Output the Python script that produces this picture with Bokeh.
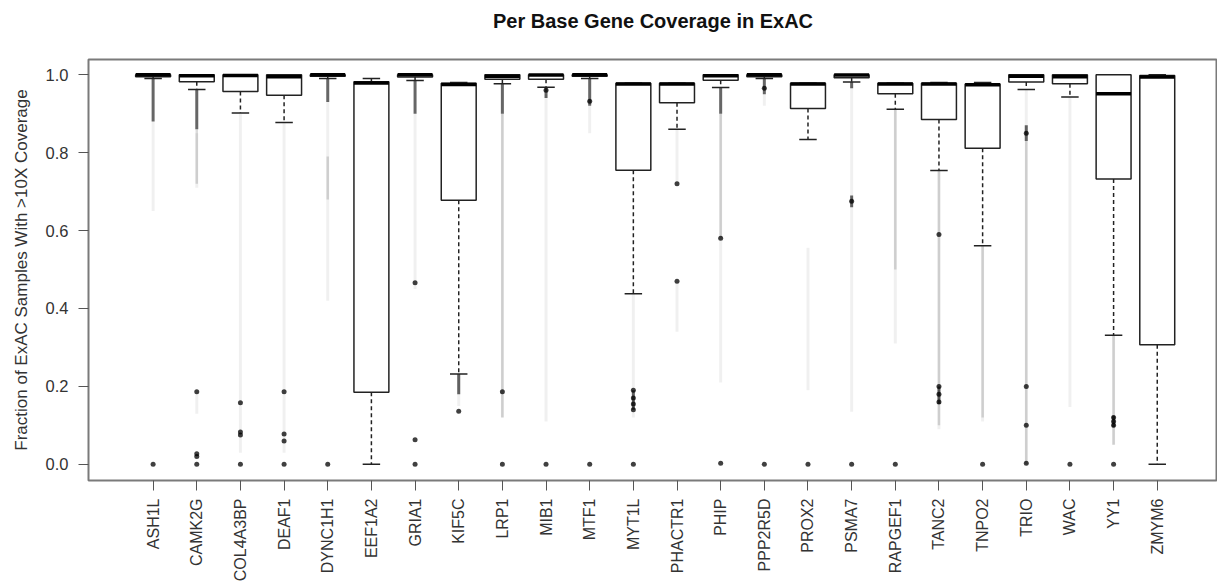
import numpy as np
from bokeh.plotting import figure
from bokeh.models import FixedTicker, Range1d, LinearAxis
from bokeh.embed import file_html
from bokeh.resources import INLINE

title_text = "Per Base Gene Coverage in ExAC"
y_title = "Fraction of ExAC Samples With >10X Coverage"

genes = ["ASH1L", "CAMK2G", "COL4A3BP", "DEAF1", "DYNC1H1", "EEF1A2", "GRIA1", "KIF5C",
         "LRP1", "MIB1", "MTF1", "MYT1L", "PHACTR1", "PHIP", "PPP2R5D", "PROX2", "PSMA7",
         "RAPGEF1", "TANC2", "TNPO2", "TRIO", "WAC", "YY1", "ZMYM6"]

q1 = [0.995, 0.982, 0.957, 0.947, 0.996, 0.185, 0.994, 0.678, 0.988, 0.988, 0.996, 0.755,
      0.928, 0.986, 0.995, 0.913, 0.992, 0.951, 0.885, 0.811, 0.981, 0.977, 0.732, 0.307]
med = [1.0, 0.997, 0.998, 0.995, 1.0, 0.979, 1.0, 0.975, 0.996, 0.999, 1.0, 0.976,
       0.976, 0.997, 1.0, 0.976, 0.999, 0.976, 0.976, 0.974, 0.996, 0.995, 0.951, 0.994]
q3 = [1.0, 1.0, 1.0, 1.0, 1.0, 0.982, 1.0, 0.978, 1.0, 1.0, 1.0, 0.978,
      0.978, 1.0, 1.0, 0.978, 1.0, 0.978, 0.978, 0.976, 1.0, 1.0, 1.0, 0.998]
whisker_low = [0.99, 0.962, 0.902, 0.877, 0.99, 0.0, 0.985, 0.232, 0.977, 0.968, 0.99, 0.438,
               0.86, 0.967, 0.99, 0.834, 0.981, 0.911, 0.754, 0.561, 0.962, 0.943, 0.331, 0.0]
whisker_high = [1.0, 1.0, 1.0, 1.0, 1.0, 0.99, 1.0, 0.98, 1.0, 1.0, 1.0, 0.978,
                0.978, 1.0, 1.0, 0.978, 1.0, 0.978, 0.98, 0.98, 1.0, 1.0, 1.0, 1.0]

# faint clouds of overlapping translucent outliers: (gene, top, bottom)
faint_gene = ["ASH1L", "CAMK2G", "CAMK2G", "COL4A3BP", "DEAF1", "DYNC1H1", "GRIA1", "KIF5C",
              "LRP1", "MIB1", "MTF1", "MYT1L", "PHACTR1", "PHACTR1", "PHIP", "PPP2R5D",
              "PROX2", "PSMA7", "RAPGEF1", "TANC2", "TNPO2", "TRIO", "WAC", "YY1"]
faint_top = [0.88, 0.85, 0.19, 0.90, 0.877, 0.93, 0.90, 0.232, 0.90, 0.95, 0.92, 0.438,
             0.86, 0.47, 0.90, 0.95, 0.556, 0.97, 0.911, 0.754, 0.561, 0.962, 0.943, 0.331]
faint_bottom = [0.65, 0.71, 0.13, 0.03, 0.03, 0.42, 0.45, 0.15, 0.12, 0.11, 0.85, 0.12,
                0.72, 0.34, 0.21, 0.92, 0.19, 0.135, 0.31, 0.09, 0.11, 0.0, 0.147, 0.05]

# medium-density runs of outliers: (gene, top, bottom)
medium_gene = ["DYNC1H1", "LRP1", "PHIP", "TANC2", "TRIO", "RAPGEF1", "TNPO2", "YY1", "CAMK2G"]
medium_top = [0.79, 0.90, 0.90, 0.754, 0.83, 0.911, 0.561, 0.331, 0.86]
medium_bottom = [0.68, 0.12, 0.58, 0.10, 0.0, 0.50, 0.12, 0.05, 0.72]

# dense (darker) runs of outliers: (gene, top, bottom)
dense_gene = ["ASH1L", "CAMK2G", "DYNC1H1", "GRIA1", "LRP1", "MIB1", "MTF1",
              "MYT1L", "PHIP", "PPP2R5D", "PSMA7", "PSMA7", "TANC2", "TRIO", "YY1", "KIF5C"]
dense_top = [0.99, 0.962, 0.99, 0.985, 0.977, 0.968, 0.99,
             0.19, 0.967, 0.99, 0.981, 0.69, 0.20, 0.87, 0.125, 0.232]
dense_bottom = [0.88, 0.86, 0.93, 0.90, 0.90, 0.94, 0.92,
                0.14, 0.90, 0.95, 0.965, 0.66, 0.155, 0.83, 0.095, 0.18]

# individual outlier points
dot_gene = ["ASH1L", "CAMK2G", "CAMK2G", "CAMK2G", "CAMK2G", "COL4A3BP", "COL4A3BP", "COL4A3BP",
            "COL4A3BP", "DEAF1", "DEAF1", "DEAF1", "DEAF1", "DYNC1H1", "GRIA1", "GRIA1", "GRIA1",
            "KIF5C", "LRP1", "LRP1", "MIB1", "MIB1", "MTF1", "MTF1", "MYT1L", "MYT1L", "MYT1L",
            "MYT1L", "MYT1L", "PHACTR1", "PHACTR1", "PHIP", "PHIP", "PPP2R5D", "PPP2R5D", "PROX2",
            "PSMA7", "PSMA7", "RAPGEF1", "TANC2", "TANC2", "TANC2", "TANC2", "TNPO2", "TRIO",
            "TRIO", "TRIO", "TRIO", "WAC", "YY1", "YY1", "YY1", "YY1"]
dot_value = [0.0, 0.186, 0.027, 0.02, 0.0, 0.158, 0.083, 0.075,
             0.0, 0.186, 0.078, 0.06, 0.0, 0.0, 0.466, 0.063, 0.0,
             0.136, 0.186, 0.0, 0.96, 0.0, 0.932, 0.0, 0.19, 0.17, 0.155,
             0.14, 0.0, 0.72, 0.47, 0.58, 0.003, 0.965, 0.0, 0.0,
             0.675, 0.0, 0.0, 0.59, 0.2, 0.18, 0.16, 0.0, 0.85,
             0.2, 0.1, 0.003, 0.0, 0.12, 0.11, 0.10, 0.0]

y_ticks = [0.0, 0.2, 0.4, 0.6, 0.8, 1.0]
y_tick_labels = ["0.0", "0.2", "0.4", "0.6", "0.8", "1.0"]

idx = {g: i for i, g in enumerate(genes)}
x = np.arange(len(genes), dtype=float)
half_box = 0.4
half_staple = 0.2

p = figure(width=1217, height=584, output_backend="svg", toolbar_location=None,
           x_range=Range1d(-1.48, 24.38), y_range=Range1d(-0.0415, 1.039),
           min_border_left=88, min_border_right=0, min_border_top=59, min_border_bottom=102)

p.grid.visible = False
p.background_fill_color = "white"
p.border_fill_color = "white"
p.outline_line_color = "#7a7a7a"
p.outline_line_width = 2

# title drawn as the label of an empty axis above the frame
tax = LinearAxis(axis_label=title_text, ticker=FixedTicker(ticks=[]),
                 axis_line_color=None, major_tick_line_color=None, minor_tick_line_color=None,
                 major_tick_out=0, major_tick_in=0, minor_tick_out=0, minor_tick_in=0,
                 major_label_standoff=0, axis_label_standoff=28,
                 axis_label_text_font="Liberation Sans", axis_label_text_font_size="20px",
                 axis_label_text_font_style="bold", axis_label_text_color="#111111")
p.add_layout(tax, "above")

# translucent outlier clouds
fx = [idx[g] for g in faint_gene]
p.segment(x0=fx, x1=fx, y0=faint_top, y1=faint_bottom, line_color="black",
          line_alpha=0.06, line_width=3)
mx = [idx[g] for g in medium_gene]
p.segment(x0=mx, x1=mx, y0=medium_top, y1=medium_bottom, line_color="black",
          line_alpha=0.14, line_width=2.5)
dx = [idx[g] for g in dense_gene]
p.segment(x0=dx, x1=dx, y0=dense_top, y1=dense_bottom, line_color="black",
          line_alpha=0.6, line_width=3)
px = [idx[g] for g in dot_gene]
p.scatter(x=px, y=dot_value, size=5, fill_color="black", line_color=None, fill_alpha=0.75)

# whiskers
p.segment(x0=x, x1=x, y0=q1, y1=whisker_low, line_color="#222222", line_width=1.5, line_dash="4 3")
p.segment(x0=x, x1=x, y0=q3, y1=whisker_high, line_color="#222222", line_width=1.5, line_dash="4 3")
p.segment(x0=x - half_staple, x1=x + half_staple, y0=whisker_low, y1=whisker_low,
          line_color="#222222", line_width=1.5)
p.segment(x0=x - half_staple, x1=x + half_staple, y0=whisker_high, y1=whisker_high,
          line_color="#222222", line_width=1.5)

# boxes
p.quad(left=x - half_box, right=x + half_box, bottom=q1, top=q3, fill_color="white",
       line_color="#222222", line_width=1.5)
p.segment(x0=x - half_box, x1=x + half_box, y0=med, y1=med, line_color="black", line_width=3.5)

# axes
xa = p.below[0]
xa.ticker = FixedTicker(ticks=list(x))
xa.major_label_overrides = {float(i): g for i, g in enumerate(genes)}
xa.major_label_orientation = np.pi / 2
xa.major_label_text_font = "Liberation Sans"
xa.major_label_text_font_size = "16px"
xa.major_label_text_color = "#333333"
xa.major_label_standoff = 8
xa.major_tick_out = 10
xa.major_tick_in = 0
xa.minor_tick_line_color = None
xa.axis_line_color = None
xa.major_tick_line_color = "#555555"

ya = p.left[0]
ya.ticker = FixedTicker(ticks=y_ticks)
ya.major_label_overrides = {t: l for t, l in zip(y_ticks, y_tick_labels)}
ya.major_label_text_font = "Liberation Sans"
ya.major_label_text_font_size = "16.5px"
ya.major_label_text_color = "#333333"
ya.major_label_standoff = 10
ya.major_tick_out = 10
ya.major_tick_in = 0
ya.minor_tick_line_color = None
ya.axis_line_color = None
ya.major_tick_line_color = "#555555"
ya.axis_label = y_title
ya.axis_label_text_font = "Liberation Sans"
ya.axis_label_text_font_size = "17px"
ya.axis_label_text_font_style = "normal"
ya.axis_label_text_color = "#333333"
ya.axis_label_standoff = 12

open("out.html", "w").write(file_html(p, INLINE))
